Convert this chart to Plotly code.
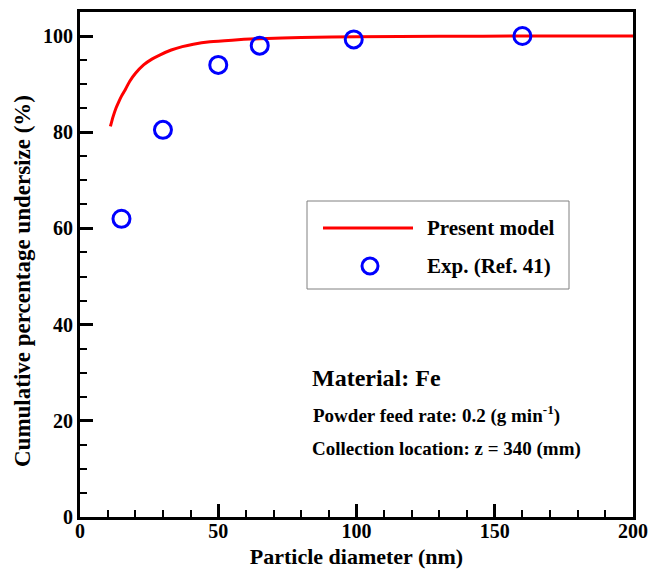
import plotly.graph_objects as go

# Model curve
model_x = [11, 12, 13, 14, 15, 16.5, 18, 20, 23, 26, 29, 33, 37, 41, 47, 55, 65, 80, 100, 130, 160, 200]
model_y = [81.2, 83.3, 85.0, 86.3, 87.5, 89.0, 90.6, 92.2, 94.0, 95.2, 96.1, 97.1, 97.8, 98.3, 98.8, 99.15, 99.45, 99.7, 99.85, 99.95, 100, 100]

# Experimental points
exp_x = [15, 30, 50, 65, 99, 160]
exp_y = [62, 80.5, 94, 98, 99.3, 100]

x_ticks = [0, 50, 100, 150, 200]
y_ticks = [0, 20, 40, 60, 80, 100]

FONT = "Liberation Serif"
W, H = 649, 569
# plot area in page pixels: x 80..633, y 12..517
L, R, T, B = 80, 649 - 633, 12, 569 - 517
PW, PH = W - L - R, H - T - B

def px(x):
    return (x - L) / PW

def py(y):
    return (H - B - y) / PH

fig = go.Figure()
fig.add_trace(go.Scatter(x=model_x, y=model_y, mode="lines", name="Present model",
                         line=dict(color="#ff0000", width=3, shape="spline", smoothing=0.8)))
fig.add_trace(go.Scatter(x=exp_x, y=exp_y, mode="markers", name="Exp. (Ref. 41)",
                         marker=dict(symbol="circle-open", size=17, color="#0000ff",
                                     line=dict(width=3, color="#0000ff"))))

axis_common = dict(showline=True, linecolor="black", linewidth=3, mirror=True,
                   ticks="inside", tickcolor="black", tickwidth=3, ticklen=13,
                   showgrid=False, zeroline=False, automargin=False,
                   tickfont=dict(family=FONT, size=20, color="black", weight="bold"))

fig.update_xaxes(range=[0, 200], tickvals=x_ticks, ticklabelstandoff=-6,
                 minor=dict(dtick=10, ticks="inside", ticklen=7, tickwidth=2, tickcolor="black", showgrid=False),
                 title=dict(text="Particle diameter (nm)", standoff=12,
                            font=dict(family=FONT, size=22, color="black", weight="bold")),
                 **axis_common)
fig.update_yaxes(range=[0, 105], tickvals=y_ticks,
                 minor=dict(dtick=5, ticks="inside", ticklen=7, tickwidth=2, tickcolor="black", showgrid=False),
                 **axis_common)

fig.update_layout(
    width=W, height=H,
    margin=dict(l=L, r=R, t=T, b=B),
    plot_bgcolor="white", paper_bgcolor="white",
    showlegend=False,
)

# Y-axis title (placed as in the reference, slightly below plot centre)
fig.add_annotation(x=px(22), y=py(281), xref="paper", yref="paper", xanchor="center", yanchor="middle",
                   text="Cumulative percentage undersize (%)", showarrow=False, textangle=-90,
                   font=dict(family=FONT, size=23, color="black", weight="bold"))

# Custom legend box (matches reference's long line sample)
fig.add_shape(type="rect", xref="paper", yref="paper",
              x0=px(307), x1=px(569), y0=py(289), y1=py(201),
              line=dict(color="#808080", width=1), fillcolor="white", layer="above")
fig.add_shape(type="line", xref="paper", yref="paper",
              x0=px(323), x1=px(413), y0=py(228), y1=py(228),
              line=dict(color="#ff0000", width=3), layer="above")
fig.add_shape(type="circle", xref="paper", yref="paper",
              x0=px(362), x1=px(378), y0=py(274), y1=py(258),
              line=dict(color="#0000ff", width=3), layer="above")
fig.add_annotation(x=px(425), y=py(228), xref="paper", yref="paper", xanchor="left", yanchor="middle",
                   text="Present model", showarrow=False,
                   font=dict(family=FONT, size=21, color="black", weight="bold"))
fig.add_annotation(x=px(425), y=py(266), xref="paper", yref="paper", xanchor="left", yanchor="middle",
                   text="Exp. (Ref. 41)", showarrow=False,
                   font=dict(family=FONT, size=21, color="black", weight="bold"))

fig.add_annotation(x=px(310), y=py(378), xref="paper", yref="paper", xanchor="left", yanchor="middle",
                   text="Material: Fe", showarrow=False,
                   font=dict(family=FONT, size=24, color="black", weight="bold"))
fig.add_annotation(x=px(311), y=py(414), xref="paper", yref="paper", xanchor="left", yanchor="middle",
                   text="Powder feed rate: 0.2 (g min<sup>-1</sup>)", showarrow=False,
                   font=dict(family=FONT, size=19, color="black", weight="bold"))
fig.add_annotation(x=px(310), y=py(449), xref="paper", yref="paper", xanchor="left", yanchor="middle",
                   text="Collection location: z = 340 (mm)", showarrow=False,
                   font=dict(family=FONT, size=19, color="black", weight="bold"))

fig.write_html("out.html", config={"displayModeBar": False},
               post_script="document.body.style.margin='0';document.body.style.overflow='hidden';")
